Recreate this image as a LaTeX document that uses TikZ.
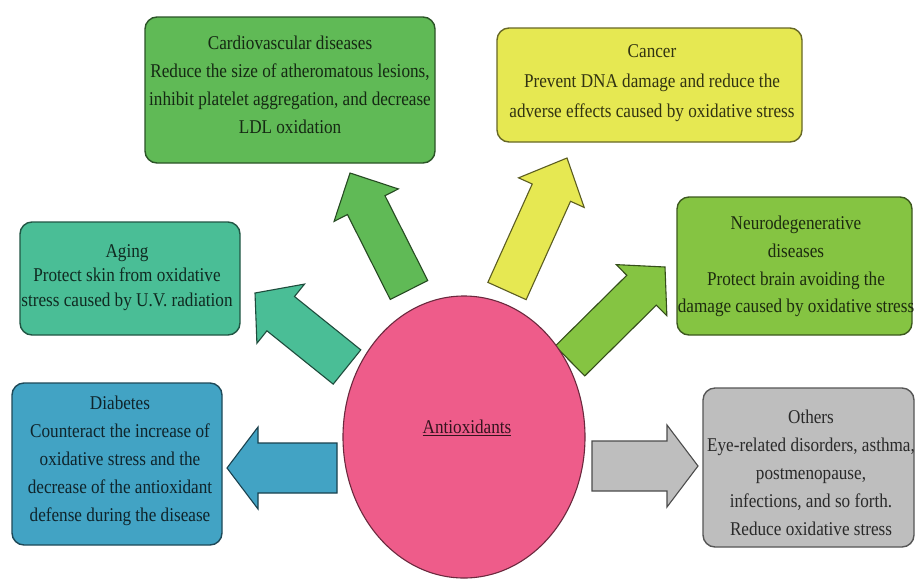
\documentclass[tikz,border=0pt]{standalone}
\usepackage{fontspec}
\setmainfont{Liberation Serif}[FakeStretch=0.88]
\usetikzlibrary{calc,shapes.geometric}
\definecolor{cardioC}{RGB}{96,186,86}
\definecolor{cancerC}{RGB}{230,232,82}
\definecolor{agingC}{RGB}{74,190,150}
\definecolor{neuroC}{RGB}{133,196,66}
\definecolor{diabC}{RGB}{66,163,196}
\definecolor{othC}{RGB}{190,190,190}
\definecolor{pinkC}{RGB}{238,92,138}
\newcommand{\blkarrow}[6]{%
  \coordinate (ba-b) at ($(#3)!#6!(#2)$);
  \draw[#1] ($(#2)!#4!90:(#3)$) -- ($(ba-b)!#4!-90:(#2)$) -- ($(ba-b)!#5!-90:(#2)$) -- (#3)
    -- ($(ba-b)!#5!90:(#2)$) -- ($(ba-b)!#4!90:(#2)$) -- ($(#2)!#4!-90:(#3)$) -- cycle;}
\tikzset{
  box/.style={draw=#1!45!black, fill=#1, rounded corners=12pt, line width=1.4pt, inner sep=0pt},
  txt/.style={align=center, inner sep=0pt, text=#1!22!black},
  blk/.style={draw=#1!40!black, fill=#1, line width=1.1pt, line join=miter},
}
\begin{document}
\begin{tikzpicture}[x=1pt,y=-1pt]
\useasboundingbox[fill=white] (0,0) rectangle (917,579);

% arrow anchors
\coordinate (a1t) at (337,468); \coordinate (a1h) at (227,468);
\coordinate (a2t) at (592,466); \coordinate (a2h) at (698,466);
\coordinate (a3t) at (347,367); \coordinate (a3h) at (255,293);
\coordinate (a4t) at (409,290); \coordinate (a4h) at (350,173);
\coordinate (a5t) at (507,291); \coordinate (a5h) at (567,158);
\coordinate (a6t) at (570,361); \coordinate (a6h) at (665,267);

\blkarrow{blk=diabC}{a1t}{a1h}{25pt}{41pt}{31pt}
\blkarrow{blk=othC}{a2t}{a2h}{25pt}{41pt}{31pt}
\blkarrow{blk=agingC}{a3t}{a3h}{22pt}{38pt}{33pt}
\blkarrow{blk=cardioC}{a4t}{a4h}{21pt}{36pt}{36pt}
\blkarrow{blk=cancerC}{a5t}{a5h}{21pt}{36pt}{38pt}
\blkarrow{blk=neuroC}{a6t}{a6h}{21pt}{36pt}{33pt}

% boxes
\node[box=cardioC, minimum width=290pt, minimum height=146pt] (cardio) at (290,90) {};
\node[box=cancerC, minimum width=305pt, minimum height=114pt] (cancer) at (649.5,85) {};
\node[box=agingC, minimum width=220pt, minimum height=113pt] (aging) at (130,278.5) {};
\node[box=neuroC, minimum width=235pt, minimum height=138pt] (neuro) at (794.5,266) {};
\node[box=diabC, minimum width=210pt, minimum height=162pt] (diab) at (117,464) {};
\node[box=othC, minimum width=211pt, minimum height=159pt] (oth) at (808.5,467.5) {};

% texts
\node[txt=cardioC, font=\fontsize{19.5}{28}\selectfont] (cardio-t) at (290,85)
  {Cardiovascular diseases\\Reduce the size of atheromatous lesions,\\inhibit platelet aggregation, and decrease\\LDL oxidation};
\node[txt=cancerC, font=\fontsize{19.5}{30}\selectfont] (cancer-t) at (652,83.5)
  {Cancer\\Prevent DNA damage and reduce the\\adverse effects caused by oxidative stress};
\node[txt=agingC, font=\fontsize{19.5}{24.5}\selectfont] (aging-t) at (127,277.5)
  {Aging\\Protect skin from oxidative\\stress caused by U.V. radiation};
\node[txt=neuroC, font=\fontsize{19.5}{27.7}\selectfont] (neuro-t) at (796,266.5)
  {Neurodegenerative\\diseases\\Protect brain avoiding the\\damage caused by oxidative stress};
\node[txt=diabC, font=\fontsize{19.5}{28}\selectfont] (diab-t) at (120,461)
  {Diabetes\\Counteract the increase of\\oxidative stress and the\\decrease of the antioxidant\\defense during the disease};
\node[txt=othC, font=\fontsize{19.5}{28}\selectfont] (oth-t) at (811,472.5)
  {Others\\Eye-related disorders, asthma,\\postmenopause,\\infections, and so forth.\\Reduce oxidative stress};

% centre
\node[ellipse, draw=pinkC!45!black, fill=pinkC, line width=1.1pt, inner sep=0pt,
      minimum width=242pt, minimum height=282pt] (anti) at (464,437) {};
\node[txt=pinkC, font=\fontsize{19.5}{24}\selectfont] (anti-t) at (467,428) {\underline{Antioxidants}};
\end{tikzpicture}
\end{document}
